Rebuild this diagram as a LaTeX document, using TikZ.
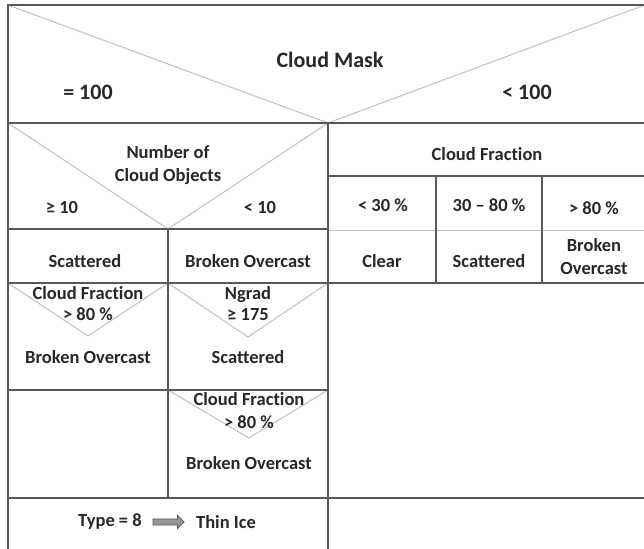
\documentclass[tikz,border=0pt]{standalone}
\usepackage{fontspec}
\setmainfont{Carlito}[Ligatures=NoCommon]
\usetikzlibrary{shapes.arrows}

\definecolor{rule}{RGB}{88,88,88}
\definecolor{diag}{RGB}{192,192,192}
\definecolor{ink}{RGB}{40,40,40}
\definecolor{arrowfill}{RGB}{150,150,150}

\begin{document}
\begin{tikzpicture}[x=1pt,y=-1pt,
  grid/.style={draw=rule,line width=2},
  split/.style={draw=diag,line width=1},
  lbl/.style={text=ink,inner sep=0,align=center,
    font=\fontsize{18.5}{22}\selectfont\bfseries},
  big/.style={lbl,font=\fontsize{22}{26}\selectfont\bfseries}]
\useasboundingbox (0,0) rectangle (644,548);
\fill[white] (0,0) rectangle (644,548);

\begin{scope}
\clip (0,0) rectangle (644,548);
% decision splits (light diagonals)
\draw[split] (8,5) -- (328,123) -- (650,3);
\draw[split] (8,123) -- (168,229) -- (328,123);
\draw[split] (8,283) -- (88,336) -- (168,283);
\draw[split] (168,283) -- (248,337) -- (328,283);
\draw[split] (168,390) -- (249,438) -- (328,390);
\draw[split] (328,230) -- (650,230);
% table rules
\draw[grid] (8,5) -- (650,5);
\draw[grid] (8,4) -- (8,552);
\draw[grid] (8,123) -- (650,123);
\draw[grid] (328,123) -- (328,552);
\draw[grid] (328,176) -- (650,176);
\draw[grid] (436,176) -- (436,283);
\draw[grid] (542,176) -- (542,283);
\draw[grid] (8,229) -- (328,229);
\draw[grid] (168,229) -- (168,498);
\draw[grid] (8,283) -- (650,283);
\draw[grid] (8,390) -- (328,390);
\draw[grid] (8,498) -- (650,498);
\end{scope}

% cloud mask test
\node[big] (mask) at (330,60) {Cloud Mask};
\node[big] (eq100) at (88,92) {= 100};
\node[big] (lt100) at (527,92) {< 100};

% fully cloudy branch
\node[lbl,font=\fontsize{18.5}{23}\selectfont\bfseries] (nobj) at (168,165.5) {Number of\\Cloud Objects};
\node[lbl] (ge10) at (62,207) {≥ 10};
\node[lbl] (lt10) at (260,207) {< 10};
\node[lbl] (scatA) at (85,261) {Scattered};
\node[lbl] (bovA) at (248,261) {Broken Overcast};

\node[lbl,font=\fontsize{18.5}{21}\selectfont\bfseries] (cfB) at (88,303.5) {Cloud Fraction\\> 80 \%};
\node[lbl] (bovB) at (88,357) {Broken Overcast};
\node[lbl,font=\fontsize{18.5}{21}\selectfont\bfseries] (ngrad) at (248,303.5) {Ngrad\\≥ 175};
\node[lbl] (scatB) at (248,357) {Scattered};
\node[lbl,font=\fontsize{18.5}{23}\selectfont\bfseries] (cfC) at (249,410.5) {Cloud Fraction\\> 80 \%};
\node[lbl] (bovC) at (249,463) {Broken Overcast};

% thin ice rule
\node[lbl] (type8) at (110,522) {Type = 8};
\node[single arrow, draw=rule, fill=arrowfill, line width=0.8,
      minimum height=31, minimum width=13, single arrow head extend=2.5,
      inner sep=1.8] (thin) at (167,522) {};
\node[lbl] (ice) at (226,522) {Thin Ice};

% partly cloudy branch
\node[lbl] (cf) at (487,154) {Cloud Fraction};
\node[lbl] (p30) at (383,205) {< 30 \%};
\node[lbl] (p3080) at (489,205) {30 – 80 \%};
\node[lbl] (p80) at (594,208) {> 80 \%};
\node[lbl] (clear) at (382,261) {Clear};
\node[lbl] (scatD) at (489,261) {Scattered};
\node[lbl,font=\fontsize{18.5}{23}\selectfont\bfseries] (bovD) at (594,256.5) {Broken\\Overcast};
\end{tikzpicture}
\end{document}
